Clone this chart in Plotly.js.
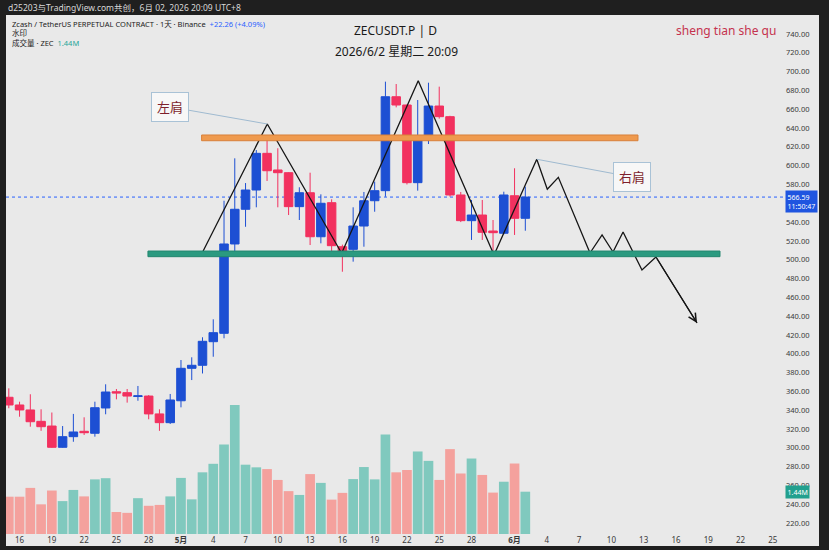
<!DOCTYPE html>
<html><head><meta charset="utf-8">
<script src="https://cdn.plot.ly/plotly-3.0.1.min.js"></script>
<style>html,body{margin:0;padding:0;background:#1f1f1f;}#chart{width:829px;height:550px;}</style>
</head><body><div id="chart"></div>
<script>
// ---- data ----
const dates = ['2026-04-15','2026-04-16','2026-04-17','2026-04-18','2026-04-19','2026-04-20','2026-04-21','2026-04-22','2026-04-23','2026-04-24','2026-04-25','2026-04-26','2026-04-27','2026-04-28','2026-04-29','2026-04-30',
'2026-05-01','2026-05-02','2026-05-03','2026-05-04','2026-05-05','2026-05-06','2026-05-07','2026-05-08','2026-05-09','2026-05-10','2026-05-11','2026-05-12','2026-05-13','2026-05-14','2026-05-15','2026-05-16','2026-05-17','2026-05-18','2026-05-19','2026-05-20','2026-05-21','2026-05-22','2026-05-23','2026-05-24','2026-05-25','2026-05-26','2026-05-27','2026-05-28','2026-05-29','2026-05-30','2026-05-31','2026-06-01','2026-06-02'];
const openP  = [353.7,345.5,340.2,328.1,323.1,300.5,311.8,317.5,315.4,342.3,359.6,358.6,354.5,355.0,336.0,326.7,350.0,384.5,387.7,412.8,421.7,516.7,553.6,574.1,613.1,595.4,592.5,556.4,571.2,524.4,560.6,513.8,511.0,535.8,562.7,573.4,673.3,664.5,581.9,630.1,663.4,652.1,568.8,541.5,547.5,530.5,528.1,568.0,544.0];
const highP  = [363.2,349.0,356.9,340.9,337.5,323.1,336.0,332.4,349.0,367.5,362.5,362.5,365.7,356.0,340.9,357.2,393.3,396.2,417.5,436.6,562.7,607.8,581.5,616.6,632.6,618.5,593.0,577.0,592.5,569.5,564.2,516.0,555.7,572.0,583.0,689.3,686.8,665.0,669.8,688.2,684.0,653.0,572.0,563.5,563.5,542.2,572.3,597.2,577.6];
const lowP   = [342.0,333.0,322.4,318.0,300.0,300.0,306.4,313.6,311.8,335.6,351.5,348.0,350.0,330.3,318.0,325.3,343.0,372.0,379.0,396.8,416.4,506.8,535.0,555.7,583.7,555.7,547.5,542.2,515.6,517.4,508.0,487.2,497.9,513.8,551.0,567.0,662.0,580.0,573.4,623.0,650.0,567.0,540.0,521.0,521.0,506.8,527.0,526.3,530.8];
const closeP = [345.5,340.2,327.7,322.4,300.5,311.8,316.8,316.0,342.6,359.3,358.2,355.0,355.2,336.0,326.7,350.8,384.5,387.7,413.2,422.4,516.7,553.6,574.1,613.1,594.6,592.5,556.4,571.2,524.4,560.0,514.9,508.5,535.8,562.7,573.4,673.3,664.5,581.9,630.8,663.4,652.1,568.8,541.5,547.5,529.1,528.7,568.8,544.0,566.59];
const volumeM = [1.27,1.27,1.57,1.01,1.48,1.12,1.50,1.28,1.86,1.90,0.75,0.72,1.22,0.96,0.99,1.28,1.91,1.18,2.10,2.39,3.05,4.39,2.36,2.27,2.21,1.84,1.46,1.33,2.04,1.74,1.17,1.40,1.87,2.28,1.86,3.39,2.10,2.18,2.81,2.49,1.84,2.89,2.06,2.57,2.01,1.41,1.78,2.40,1.44];

// price labels visible on the axis (560.00 sits under the last-price tag)
const priceTicks = [220,240,260,280,300,320,340,360,380,400,420,440,460,480,500,520,540,580,600,620,640,660,680,700,720,740];
const dateTickVals = ['2026-04-16','2026-04-19','2026-04-22','2026-04-25','2026-04-28','2026-05-01','2026-05-04','2026-05-07','2026-05-10','2026-05-13','2026-05-16','2026-05-19','2026-05-22','2026-05-25','2026-05-28','2026-06-01','2026-06-04','2026-06-07','2026-06-10','2026-06-13','2026-06-16','2026-06-19','2026-06-22','2026-06-25'];
const dateTickText = ['16','19','22','25','28','<b>5月</b>','4','7','10','13','16','19','22','25','28','<b>6月</b>','4','7','10','13','16','19','22','25'];

// hand-drawn head & shoulders projection
const patternX = ['2026-05-02 23:30','2026-05-09 00:30','2026-05-15 22:20','2026-05-23 01:10','2026-05-30 02:10','2026-06-03 01:30','2026-06-04 01:00','2026-06-05 01:40','2026-06-08 00:15','2026-06-09 03:10','2026-06-10 03:35','2026-06-11 02:00','2026-06-12 20:10','2026-06-14 03:20','2026-06-17 23:00'];
const patternY = [507.4,644.3,506.8,690.3,505.0,606.8,574.9,587.6,507.1,526.3,508.2,529.4,489.0,502.9,432.7];
const resistBand = {x: ['2026-05-02 22:00','2026-06-12 11:15'], y: [626.5,632.6]};
const supportBand = {x: ['2026-04-27 22:20','2026-06-20 02:10'], y: [503.2,509.2]};
const lastPrice = 566.59, lastVol = 1.44;

// ---- chart ----
const upC = '#1d4fd3', dnC = '#f2315f';
const volColors = closeP.map((c,i)=> c >= openP[i] ? '#80c9be' : '#f4a19d');
const FONT = 'Noto Sans, Noto Sans CJK SC, sans-serif';

const traces = [
  {type:'bar', x:dates, y:volumeM, yaxis:'y', marker:{color:volColors, line:{width:0}}, hoverinfo:'skip', showlegend:false},
  {type:'candlestick', x:dates, open:openP, high:highP, low:lowP, close:closeP, yaxis:'y2',
   increasing:{line:{color:upC,width:1}, fillcolor:upC},
   decreasing:{line:{color:dnC,width:1}, fillcolor:dnC},
   whiskerwidth:0, showlegend:false, hoverinfo:'skip'},
  {type:'scatter', mode:'lines', x:patternX, y:patternY, yaxis:'y2', line:{color:'#151515', width:1.3}, hoverinfo:'skip', showlegend:false}
];

// paper helpers (plot area: x 6..785, y 15..534)
const PW = 779, PH = 519;
const px = v => (v-6)/PW, py = v => (534-v)/PH;

const layout = {
  width:829, height:550,
  margin:{l:6, r:44, t:15, b:16},
  paper_bgcolor:'#1f1f1f', plot_bgcolor:'#e9e9e9',
  font:{family:FONT, color:'#333'},
  bargap:0.1, boxgap:0.1, boxgroupgap:0.12,
  showlegend:false,
  xaxis:{type:'date', range:['2026-04-14 17:45','2026-06-26 03:10'], showgrid:false, zeroline:false, showline:false,
    tickmode:'array', tickvals:dateTickVals, ticktext:dateTickText, ticks:'', tickfont:{size:8, color:'#3a3a3a', family:FONT},
    rangeslider:{visible:false}, fixedrange:true},
  yaxis:{range:[0,17.67], visible:false, fixedrange:true},
  yaxis2:{overlaying:'y', side:'right', range:[208.3,760.2], showgrid:false, zeroline:false, showline:false,
    tickmode:'array', tickvals:priceTicks, tickformat:'.2f', ticks:'', tickfont:{size:7.5, color:'#3a3a3a', family:FONT}, fixedrange:true},
  shapes:[
    {type:'rect', xref:'paper', yref:'paper', x0:px(6), x1:px(819), y0:py(546), y1:py(15), fillcolor:'#e9e9e9', line:{width:0}, layer:'below'},
    {type:'line', xref:'paper', yref:'y2', x0:0, x1:1, y0:lastPrice, y1:lastPrice, line:{color:'#2962ff', width:1, dash:'dot'}, layer:'below'},
    {type:'rect', xref:'x', yref:'y2', x0:resistBand.x[0], x1:resistBand.x[1], y0:resistBand.y[0], y1:resistBand.y[1], fillcolor:'#ef9a4e', line:{color:'#d9803a', width:1}},
    {type:'rect', xref:'x', yref:'y2', x0:supportBand.x[0], x1:supportBand.x[1], y0:supportBand.y[0], y1:supportBand.y[1], fillcolor:'#2b9a80', line:{color:'#23876f', width:1}}
  ],
  annotations:[
    {xref:'paper', yref:'paper', x:px(6), y:py(7.5), xanchor:'left', yanchor:'middle', showarrow:false,
     text:'d25203与TradingView.com共创，6月 02, 2026 20:09 UTC+8', font:{size:8.5, color:'#d8d8d8', family:FONT}},
    {xref:'paper', yref:'paper', x:px(10), y:py(23.5), xanchor:'left', yanchor:'middle', showarrow:false,
     text:'Zcash / TetherUS PERPETUAL CONTRACT · 1天 · Binance  <span style="color:#2962ff">+22.26 (+4.09%)</span>', font:{size:7.5, color:'#222', family:FONT}},
    {xref:'paper', yref:'paper', x:px(10), y:py(33), xanchor:'left', yanchor:'middle', showarrow:false,
     text:'水印', font:{size:7.5, color:'#222', family:FONT}},
    {xref:'paper', yref:'paper', x:px(10), y:py(42.5), xanchor:'left', yanchor:'middle', showarrow:false,
     text:'成交量 · ZEC  <span style="color:#26a69a">1.44M</span>', font:{size:7.5, color:'#222', family:FONT}},
    {xref:'paper', yref:'paper', x:px(395), y:py(31), xanchor:'center', yanchor:'middle', showarrow:false,
     text:'ZECUSDT.P | D', font:{size:12, color:'#1a1a1a', family:FONT}},
    {xref:'paper', yref:'paper', x:px(396), y:py(51.5), xanchor:'center', yanchor:'middle', showarrow:false,
     text:'2026/6/2 星期二 20:09', font:{size:12, color:'#1a1a1a', family:FONT}},
    {xref:'paper', yref:'paper', x:px(726), y:py(31), xanchor:'center', yanchor:'middle', showarrow:false,
     text:'sheng tian she qu', font:{size:12, color:'#c5334e', family:FONT}},
    {xref:'paper', yref:'y2', x:1, y:lastPrice, xanchor:'left', yanchor:'middle', yshift:-4, showarrow:false, align:'left',
     text:'566.59<br>11:50:47', bgcolor:'#1f55e0', borderpad:1.5, font:{size:7, color:'#ffffff', family:FONT}},
    {xref:'paper', yref:'y', x:1, y:lastVol, xanchor:'left', yanchor:'middle', showarrow:false,
     text:'1.44M', bgcolor:'#22a08e', borderpad:1.5, font:{size:7, color:'#ffffff', family:FONT}},
    {xref:'x', yref:'y2', x:patternX[1], y:patternY[1], axref:'x', ayref:'y2', ax:'2026-04-30 00:00', ay:662.4,
     text:'左肩', showarrow:true, arrowhead:0, arrowcolor:'#9fbad0', arrowwidth:1,
     bgcolor:'#f7f7f7', bordercolor:'#a9c2d6', borderwidth:1, borderpad:5, font:{size:13, color:'#7e1f2c', family:FONT}},
    {xref:'x', yref:'y2', x:patternX[5], y:patternY[5], axref:'x', ayref:'y2', ax:'2026-06-11 21:50', ay:587.9,
     text:'右肩', showarrow:true, arrowhead:0, arrowcolor:'#9fbad0', arrowwidth:1,
     bgcolor:'#f7f7f7', bordercolor:'#a9c2d6', borderwidth:1, borderpad:5, font:{size:13, color:'#7e1f2c', family:FONT}},
    {xref:'x', yref:'y2', x:patternX[14], y:patternY[14], axref:'x', ayref:'y2', ax:patternX[13], ay:patternY[13],
     text:'', showarrow:true, arrowhead:5, arrowsize:1.3, arrowwidth:1.2, arrowcolor:'#151515', standoff:0}
  ]
};

Plotly.newPlot('chart', traces, layout, {displayModeBar:false, staticPlot:true});
</script>
</body></html>
